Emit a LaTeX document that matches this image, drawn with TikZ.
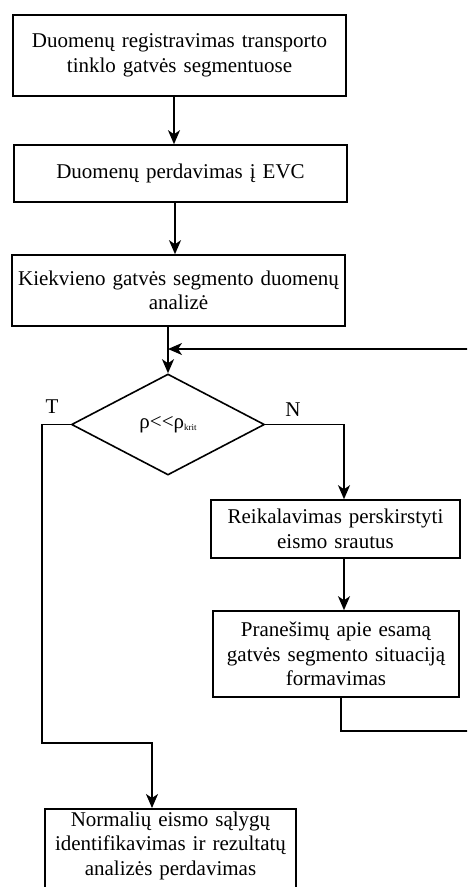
\documentclass[tikz,border=0pt]{standalone}
\usepackage{fontspec}
\setmainfont{Liberation Serif}
\usetikzlibrary{arrows.meta,shapes.geometric,calc}
\newcommand{\fsz}{\fontsize{21}{24.5}\selectfont}
\begin{document}
\begin{tikzpicture}[x=1pt,y=-1pt,
  box/.style={draw, line width=1.6pt, align=center, inner xsep=4pt, inner ysep=3pt, font=\fsz},
  arr/.style={line width=1.6pt, -{Stealth[length=14pt,width=12pt,inset=4pt]}},
  ln/.style={line width=1.6pt},
  lbl/.style={font=\fsz}]
\useasboundingbox (0,0) rectangle (467,887);
\clip (0,0) rectangle (467,887);
\node[box, minimum width=333pt, minimum height=81pt, text width=325pt] (b1) at (179.5,55.5) {Duomenų registravimas transporto\\tinklo gatvės segmentuose};
\node[box, minimum width=333pt, minimum height=57pt, text width=325pt] (b2) at (180.5,173.5) {Duomenų perdavimas į EVC};
\node[box, minimum width=333pt, minimum height=71pt, text width=325pt] (b3) at (178.5,290.5) {Kiekvieno gatvės segmento duomenų\\analizė};
\node[diamond, draw, line width=1.6pt, minimum width=193pt, minimum height=101pt, inner sep=0pt, aspect=1.9, font=\fsz] (d) at (168,424.5) {ρ{<}{<}ρ{\fontsize{9}{9}\selectfont\raisebox{-2pt}{krit}}};
\node[box, minimum width=249pt, minimum height=58pt, text width=241pt] (b4) at (335.5,529) {Reikalavimas perskirstyti\\eismo srautus};
\node[box, minimum width=246pt, minimum height=86pt, text width=238pt] (b5) at (336,654) {Pranešimų apie esamą\\gatvės segmento situaciją\\formavimas};
\node[box, text width=243pt, anchor=north] (b6) at (170.5,808) {Normalių eismo sąlygų\\identifikavimas ir rezultatų\\analizės perdavimas\\\mbox{}};
\node[lbl] (T) at (52,407) {T};
\node[lbl] (N) at (293,410) {N};
\coordinate (fbR) at (475,349);
\coordinate (lbx) at (42,0);
\coordinate (lby) at (0,743);
\coordinate (t6) at (152,0);
\coordinate (nx) at (344,0);
\coordinate (loopB) at (475,731);
\draw[arr] ([xshift=-5.5pt]b1.south) -- ([xshift=-5.5pt]b1.south |- b2.north);
\draw[arr] ([xshift=-5.5pt]b2.south) -- ([xshift=-5.5pt]b2.south |- b3.north);
\draw[arr] (b3.south -| d.north) -- (d.north);
\draw[arr] (fbR) -- (fbR -| d.north);
\draw[arr] (d.west) -- (d.west -| lbx) -- (lbx |- lby) -- (lby -| t6) -- (t6 |- b6.north);
\draw[arr] (d.east) -- (d.east -| nx) -- (nx |- b4.north);
\draw[arr] ([xshift=8.5pt]b4.south) -- ([xshift=8.5pt]b4.south |- b5.north);
\draw[ln] ([xshift=5pt]b5.south) -- ([xshift=5pt]b5.south |- loopB) -- (loopB);
\end{tikzpicture}
\end{document}
